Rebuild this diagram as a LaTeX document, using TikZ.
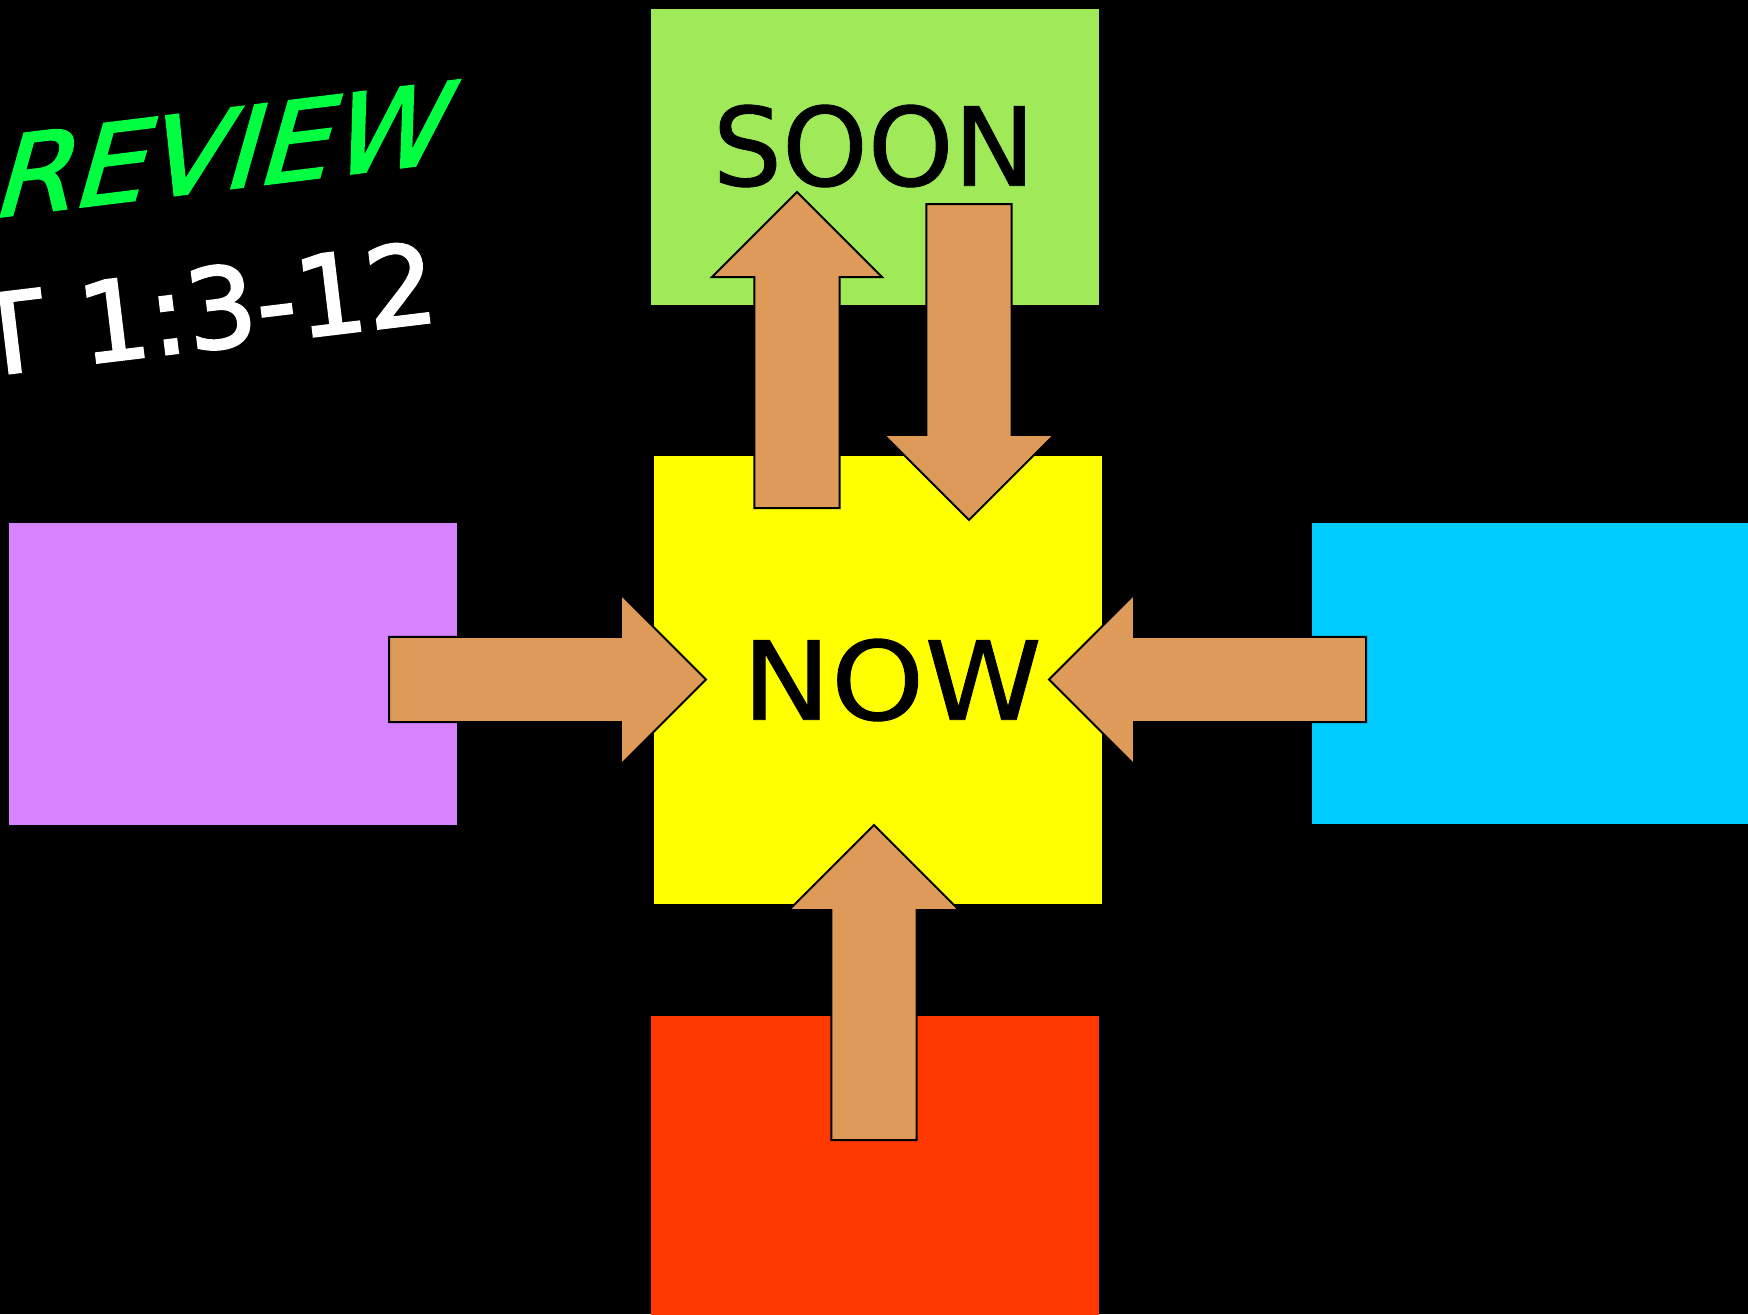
\documentclass[tikz,border=0pt]{standalone}
\usepackage{fontspec}
\setmainfont{DejaVu Sans}[FakeBold=0.8]
\newfontfamily\slfont{DejaVu Sans}[FakeSlant=0.42,FakeStretch=1.06,FakeBold=2.2]
\newfontfamily\boldishfont{DejaVu Sans}[FakeBold=2.2]
\newfontfamily\wideFont{DejaVu Sans}[FakeStretch=1.09,FakeBold=0.8]
\usetikzlibrary{calc}
\definecolor{soongreen}{RGB}{160,234,90}
\definecolor{nowyellow}{RGB}{255,255,0}
\definecolor{lpurple}{RGB}{215,131,255}
\definecolor{rcyan}{RGB}{0,204,255}
\definecolor{bred}{RGB}{255,57,0}
\definecolor{revgreen}{RGB}{0,255,64}
\definecolor{arrowtan}{RGB}{221,154,88}
\newcommand\blockarrow[2]{%
  \path ($(#2)!0.85cm!(#1)$) coordinate (hb);
  \draw[arrowbody] ($(#1)!0.425cm!90:(#2)$) -- ($(hb)!0.425cm!90:(#2)$) -- ($(hb)!0.85cm!90:(#2)$) -- (#2)
     -- ($(hb)!0.85cm!-90:(#2)$) -- ($(hb)!0.425cm!-90:(#2)$) -- ($(#1)!0.425cm!-90:(#2)$) -- cycle;
}
\begin{document}
\begin{tikzpicture}[x=0.01cm,y=-0.01cm,
  box/.style={fill=#1, draw=none, inner sep=0, anchor=north west},
  arrowbody/.style={fill=arrowtan, draw=black, line width=0.02cm, line join=miter},
  bigtext/.style={font=\fontsize{31pt}{31pt}\selectfont, text=black, inner sep=0}]
\fill[black] (0,0) rectangle (1748,1314);
\useasboundingbox (0,0) rectangle (1748,1314);
\clip (0,0) rectangle (1748,1314);
% boxes
\node[box=soongreen, minimum width=4.48cm, minimum height=2.96cm] (soon) at (650,8) {};
\node[box=nowyellow, minimum width=4.48cm, minimum height=4.48cm] (now) at (653,455) {};
\node[box=lpurple, minimum width=4.48cm, minimum height=3.02cm] (left) at (8,522) {};
\node[box=rcyan, minimum width=4.40cm, minimum height=3.01cm] (right) at (1311,522) {};
\node[box=bred, minimum width=4.48cm, minimum height=3.00cm] (bottom) at (650,1015) {};
% labels
\node[bigtext] (soonlabel) at (874,146) {SOON};
\node[bigtext, font=\wideFont\fontsize{31pt}{31pt}\selectfont] (nowlabel) at (892,680) {NOW};
% heading texts
\node[rotate=7, anchor=base west, inner sep=0, text=revgreen,
      font=\slfont\fontsize{31pt}{31pt}\selectfont] (review) at (-11,218) {REVIEW};
\node[rotate=6.9, anchor=base east, inner sep=0, text=white,
      font=\boldishfont\fontsize{31.5pt}{32pt}\selectfont] (verse) at (441,321) {T 1:3-12};
% arrow ends
\coordinate (upTail) at (797,508);
\coordinate (upTip) at (797,192);
\coordinate (dnTail) at (969,204);
\coordinate (dnTip) at (969,520);
\coordinate (lTail) at (389,679.5);
\coordinate (lTip) at (706,679.5);
\coordinate (rTail) at (1366,679.5);
\coordinate (rTip) at (1049,679.5);
\coordinate (bTail) at (874,1140);
\coordinate (bTip) at (874,825);
\blockarrow{upTail}{upTip}
\blockarrow{dnTail}{dnTip}
\blockarrow{lTail}{lTip}
\blockarrow{rTail}{rTip}
\blockarrow{bTail}{bTip}
\end{tikzpicture}
\end{document}
